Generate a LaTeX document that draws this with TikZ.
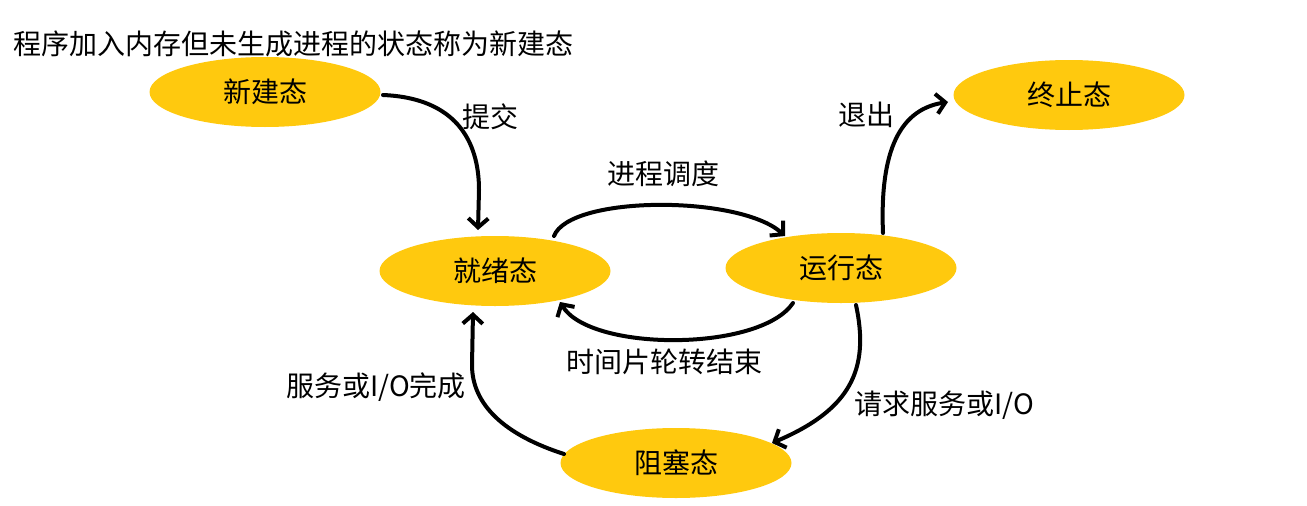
\documentclass[tikz,border=0pt]{standalone}
\usepackage{fontspec}
\setmainfont{Noto Sans CJK SC}
\usetikzlibrary{shapes.geometric,arrows.meta}
\definecolor{gold}{RGB}{255,201,14}
\tikzset{
  state/.style={ellipse,fill=gold,draw=none,inner sep=0pt,minimum width=231pt,minimum height=70pt,font=\fontsize{28pt}{32pt}\selectfont},
  lbl/.style={inner sep=0pt,font=\fontsize{28pt}{32pt}\selectfont},
  conn/.style={line width=4pt,line cap=round,-{Straight Barb[length=9pt,width=20pt,line width=4pt]}}
}
\begin{document}
\begin{tikzpicture}[x=1pt,y=-1pt]
\useasboundingbox (0,0) rectangle (1307,506);
\node[lbl,anchor=west] (title) at (13,44) {程序加入内存但未生成进程的状态称为新建态};
\node[state] (new) at (265,92) {新建态};
\node[state] (exit) at (1069,95) {终止态};
\node[state] (ready) at (495,271) {就绪态};
\node[state] (run) at (841,268) {运行态};
\node[state] (block) at (676,463) {阻塞态};

\node[lbl] (l1) at (490,117) {提交};
\node[lbl] (l2) at (663,174) {进程调度};
\node[lbl] (l3) at (866,115) {退出};
\node[lbl] (l4) at (664,362) {时间片轮转结束};
\node[lbl] (l5) at (944,405) {请求服务或I/O};
\node[lbl] (l6) at (376,387) {服务或I/O完成};

\draw[conn] ([shift={(118,3)}]new.center) .. controls (455,98) and (479,140) .. (479,190) -- ([shift={(-17,-41)}]ready.center);
\draw[conn] ([shift={(59,-35)}]ready.center) .. controls (570,195) and (740,195) .. ([shift={(-56,-32)}]run.center);
\draw[conn] ([shift={(-48,35)}]run.center) .. controls (760,352) and (590,352) .. ([shift={(65,31)}]ready.center);
\draw[conn] ([shift={(42,-35)}]run.center) .. controls (880,160) and (895,110) .. ([shift={(-121,7)}]exit.center);
\draw[conn] ([shift={(15,37)}]run.center) .. controls (870,370) and (850,410) .. ([shift={(96,-20)}]block.center);
\draw[conn] ([shift={(-112,-9)}]block.center) .. controls (505,435) and (472,405) .. (472,365) -- ([shift={(-22,41)}]ready.center);
\end{tikzpicture}
\end{document}
